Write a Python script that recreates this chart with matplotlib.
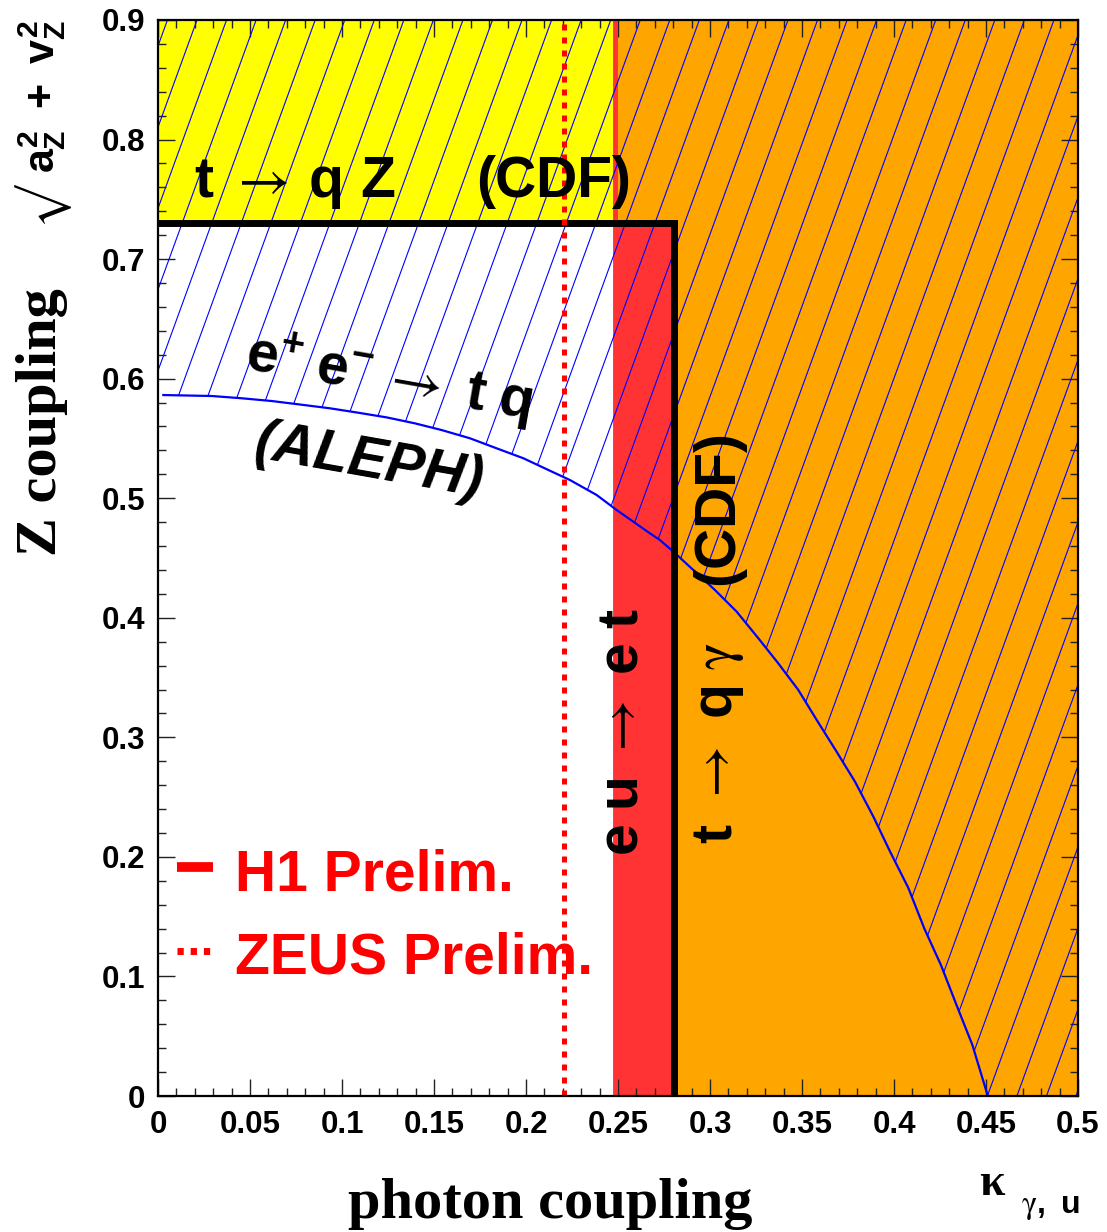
import numpy as np
import matplotlib
matplotlib.use("Agg")
import matplotlib.pyplot as plt
from matplotlib.patches import Polygon
from matplotlib.collections import LineCollection

plt.rcParams['font.family'] = ['Liberation Sans', 'DejaVu Sans']
plt.rcParams['mathtext.fontset'] = 'custom'
plt.rcParams['mathtext.rm'] = 'Liberation Sans:bold'
plt.rcParams['mathtext.it'] = 'Liberation Sans:bold'
plt.rcParams['mathtext.bf'] = 'Liberation Sans:bold'
plt.rcParams['mathtext.sf'] = 'DejaVu Sans'
plt.rcParams['mathtext.tt'] = 'Liberation Serif'
plt.rcParams['mathtext.cal'] = 'STIXGeneral'

# ---------------- data ----------------
# ALEPH e+e- -> tq exclusion contour (photon coupling, Z coupling)
aleph_kappa = [0.0029, 0.0292, 0.0455, 0.0618, 0.0781, 0.0935, 0.1089, 0.1243,
               0.1397, 0.1542, 0.1696, 0.1841, 0.1986, 0.2130, 0.2239, 0.2384,
               0.2493, 0.2674, 0.2728, 0.2801, 0.2909, 0.3027, 0.3145, 0.3263,
               0.3371, 0.3480, 0.3580, 0.3688, 0.3788, 0.3888, 0.3980, 0.4078,
               0.4165, 0.4255, 0.4340, 0.4426, 0.4510]
aleph_zc = [0.5863, 0.5855, 0.5836, 0.5813, 0.5782, 0.5752, 0.5715, 0.5676,
            0.5626, 0.5570, 0.5501, 0.5417, 0.5334, 0.5230, 0.5152, 0.5027,
            0.4901, 0.4706, 0.4650, 0.4553, 0.4400, 0.4232, 0.4051, 0.3828,
            0.3619, 0.3396, 0.3145, 0.2880, 0.2629, 0.2336, 0.2040, 0.1740,
            0.1400, 0.1096, 0.0760, 0.0427, 0.0]
h1_limit = 0.2485          # H1 prelim. limit on kappa
cdf_gamma_limit = 0.2805   # CDF t -> q gamma
cdf_z_limit = 0.73         # CDF t -> q Z
zeus_limit = 0.2205        # ZEUS prelim.
x_range = (0.0, 0.5)
y_range = (0.0, 0.9)
x_ticks = [0, 0.05, 0.1, 0.15, 0.2, 0.25, 0.3, 0.35, 0.4, 0.45, 0.5]
x_tick_labels = ["0", "0.05", "0.1", "0.15", "0.2", "0.25", "0.3", "0.35", "0.4", "0.45", "0.5"]
y_ticks = [0, 0.1, 0.2, 0.3, 0.4, 0.5, 0.6, 0.7, 0.8, 0.9]
y_tick_labels = ["0", "0.1", "0.2", "0.3", "0.4", "0.5", "0.6", "0.7", "0.8", "0.9"]

# ---------------- figure ----------------
W, H = 1107, 1232
fig = plt.figure(figsize=(W / 100, H / 100), dpi=100)
L, R, T, B = 158, 1078, 20, 1096
ax = fig.add_axes([L / W, (H - B) / H, (R - L) / W, (B - T) / H])
ax.set_xlim(*x_range)
ax.set_ylim(*y_range)

YELLOW = '#ffff00'
ORANGE = '#ffa500'
RED = '#ff3333'
BLUE = '#0000ff'

x0, x1 = x_range
y0, y1 = y_range
# yellow: t->qZ CDF excluded
ax.fill([x0, h1_limit, h1_limit, x0], [cdf_z_limit, cdf_z_limit, y1, y1],
        color=YELLOW, lw=0, zorder=1)
# red: H1 excluded
ax.fill([h1_limit, cdf_gamma_limit, cdf_gamma_limit, h1_limit],
        [y0, y0, cdf_z_limit, cdf_z_limit], color=RED, lw=0, zorder=1)
# orange: CDF excluded
ax.fill([cdf_gamma_limit, x1, x1, h1_limit, h1_limit, cdf_gamma_limit],
        [y0, y0, y1, y1, cdf_z_limit, cdf_z_limit], color=ORANGE, lw=0, zorder=1)
# H1 line
ax.plot([h1_limit, h1_limit], [y0, y1], color=RED, lw=3.5, zorder=2,
        solid_capstyle='butt')

# hatching of the ALEPH excluded region (above the contour)
verts = [(x0, y1), (x0, aleph_zc[0])] + list(zip(aleph_kappa, aleph_zc)) + \
        [(x1, y0), (x1, y1)]
clip = Polygon(verts, closed=True, transform=ax.transData)
axw, axh = R - L, B - T
k = (1 / np.tan(np.radians(70))) * axh / axw
spacing = 29.55 / axw
phase = (197 - L) / axw
tops = np.arange(phase - 20 * spacing, 1 + k + spacing, spacing)
segs = [[(t - k, 0), (t, 1)] for t in tops]
lc = LineCollection(segs, colors=BLUE, linewidths=0.8, transform=ax.transAxes,
                    zorder=3)
lc.set_clip_path(clip)
ax.add_collection(lc)

# ALEPH contour
ax.plot(aleph_kappa, aleph_zc, color=BLUE, lw=1.6, zorder=4,
        solid_joinstyle='round')

# CDF limits (black)
ax.plot([x0, cdf_gamma_limit, cdf_gamma_limit], [cdf_z_limit, cdf_z_limit, y0],
        color='black', lw=5, zorder=5, solid_joinstyle='miter', solid_capstyle='butt')

# ZEUS dotted
ax.plot([zeus_limit, zeus_limit], [y0, y1], color='#ff0000', lw=3.6,
        dashes=(1.2, 1.4), zorder=5)

# ---------------- texts in plot ----------------
def d(px, py):
    return ((px - L) / 1840.0, (B - py) / 1195.6)

ARW = r"\mathcal{\rightarrow}"
GAM = r"\mathcal{\gamma}"
fs = 41
tx, ty = d(194, 197)
ax.text(tx, ty, r"$\mathrm{t}\;" + ARW + r"\,\mathrm{q\ Z}$", fontsize=fs,
        ha='left', va='baseline', zorder=6)
tx, ty = d(476, 197)
ax.text(tx, ty, "(CDF)", fontsize=fs, fontweight='bold', ha='left',
        va='baseline', zorder=6)

tx, ty = d(389, 378)
ax.text(tx, ty, r"$\mathrm{e^{+}\;e^{-}}\," + ARW + r"\;\mathrm{t\;q}$",
        fontsize=fs, ha='center', va='center', rotation=-10,
        rotation_mode='anchor', zorder=6)
tx, ty = d(369, 462)
ax.text(tx, ty, "(ALEPH)", fontsize=fs, fontweight='bold', fontstyle='italic',
        ha='center', va='center', rotation=-10, rotation_mode='anchor', zorder=6)

tx, ty = d(718, 507)
ax.text(tx, ty, "(CDF)", fontsize=fs, fontweight='bold', ha='center',
        va='center', rotation=90, zorder=6)
tx, ty = d(719, 743)
ax.text(tx, ty, r"$\mathrm{t}\ " + ARW + r"\ \mathrm{q}\;" + GAM + "$",
        fontsize=fs, ha='center', va='center', rotation=90, zorder=6)
tx, ty = d(622, 732)
ax.text(tx, ty, r"$\mathrm{e\;u}\;" + ARW + r"\;\mathrm{e\;t}$",
        fontsize=fs, ha='center', va='center', rotation=90, zorder=6)

# legend-like labels
lx0, ly = d(177, 867)
lx1, _ = d(213, 867)
ax.plot([lx0, lx1], [ly, ly], color='#ff0000', lw=7, solid_capstyle='butt',
        zorder=6)
tx, ty = d(235, 890)
ax.text(tx, ty, "H1 Prelim.", fontsize=fs, fontweight='bold', color='#ff0000',
        ha='left', va='baseline', zorder=6)
lx0, ly = d(177, 951)
lx1, _ = d(210, 951)
ax.plot([lx0, lx1], [ly, ly], color='#ff0000', lw=5, dashes=(0.9, 1.0),
        zorder=6)
tx, ty = d(235, 973)
ax.text(tx, ty, "ZEUS Prelim.", fontsize=fs, fontweight='bold', color='#ff0000',
        ha='left', va='baseline', zorder=6)

# ---------------- axes styling ----------------
ax.set_xticks(x_ticks)
ax.set_xticklabels(x_tick_labels)
ax.set_yticks(y_ticks)
ax.set_yticklabels(y_tick_labels)
ax.set_xticks(np.arange(0, 0.5001, 0.01), minor=True)
ax.set_yticks(np.arange(0, 0.9001, 0.02), minor=True)
ax.tick_params(which='both', direction='in', top=True, right=True,
               width=1.0, color='#222222')
ax.tick_params(which='major', length=12)
ax.tick_params(which='minor', length=6)
ax.tick_params(axis='x', pad=10, labelsize=22.5)
ax.tick_params(axis='y', pad=9, labelsize=22.5)
for lab in ax.get_xticklabels() + ax.get_yticklabels():
    lab.set_fontweight('bold')
for sp in ax.spines.values():
    sp.set_linewidth(1.6)
    sp.set_zorder(10)

# axis titles
fig.text(550 / W, 1 - 1204 / H, "photon coupling", family='Liberation Serif',
         fontweight='bold', fontsize=42, ha='center', va='center')
fig.text(992 / W, 1 - 1184 / H, "κ", family='Liberation Serif',
         fontweight='bold', fontsize=33, ha='center', va='center')
fig.text(1050 / W, 1 - 1207 / H, r"$" + GAM + r"\mathrm{,\ u}$",
         fontsize=23, ha='center', va='center')
fig.text(42 / W, 1 - 422 / H, "Z coupling", family='Liberation Serif',
         fontweight='bold', fontsize=42, ha='center', va='center', rotation=90)
fig.text(42 / W, 1 - 97 / H, r"$a_Z^2\ +\ v_Z^2$", fontsize=31,
         ha='center', va='center', rotation=90)
fig.text(39 / W, 1 - 202 / H, "√", family='STIXGeneral', fontsize=33,
         ha='center', va='center', rotation=90)

fig.savefig("out.png", dpi=100)
